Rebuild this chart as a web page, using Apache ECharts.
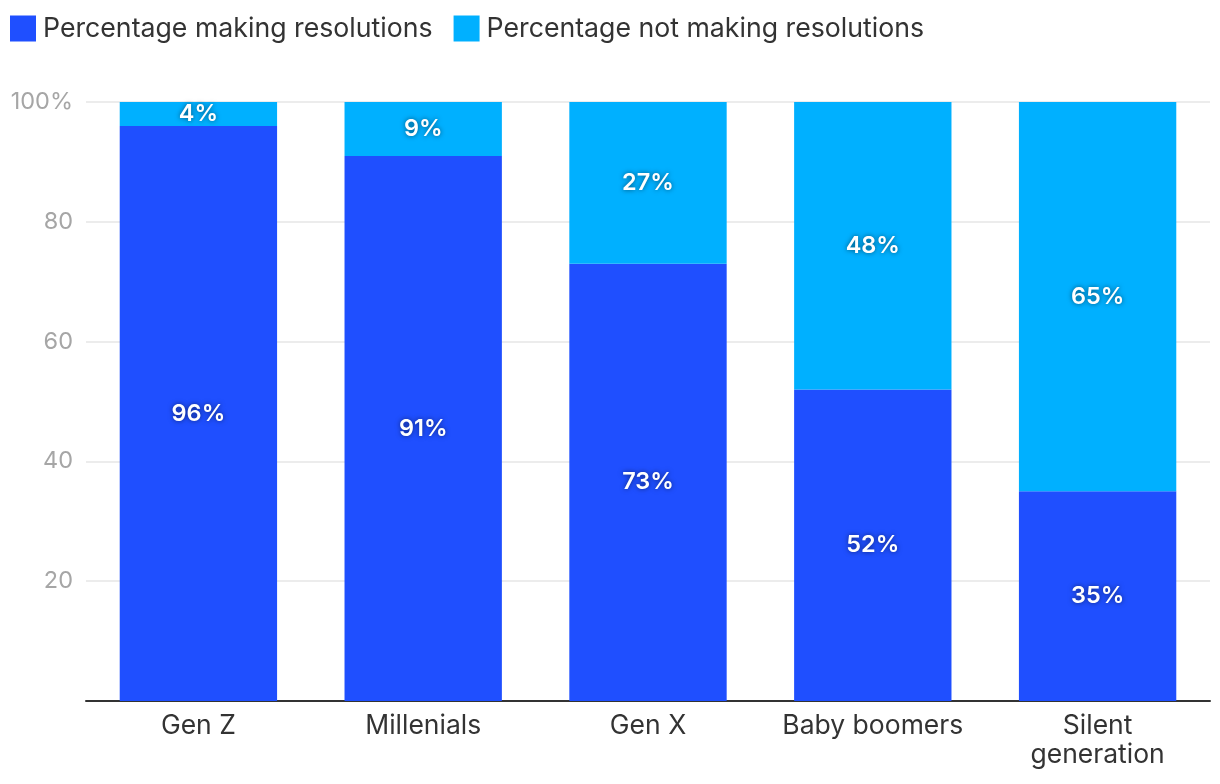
<!DOCTYPE html>
<html><head><meta charset="utf-8">
<script src="https://cdn.jsdelivr.net/npm/echarts@6/dist/echarts.min.js"></script>
<style>html,body{margin:0;padding:0;background:#fff}#c{width:1220px;height:784px}</style>
</head><body><div id="c"></div>
<script>
const categories = ['Gen Z', 'Millenials', 'Gen X', 'Baby boomers', 'Silent\ngeneration'];
const making = [96, 91, 73, 52, 35];
const notMaking = [4, 9, 27, 48, 65];
const yTicks = [0, 20, 40, 60, 80, 100];
const seriesNames = ['Percentage making resolutions', 'Percentage not making resolutions'];

const font = 'Inter, "Noto Sans", sans-serif';
const labelStyle = {
  show: true, position: 'inside', color: '#fff', fontSize: 23.5, fontWeight: 600, fontFamily: font,
  textShadowColor: 'rgba(0,0,0,0.55)', textShadowBlur: 5,
  formatter: p => p.value + '%'
};
const chart = echarts.init(document.getElementById('c'), null, {renderer: 'canvas'});
chart.setOption({
  animation: false,
  color: ['#1f4fff', '#00b0ff'],
  legend: {
    left: 5, top: 10, itemWidth: 26, itemHeight: 26, itemGap: 21, icon: 'rect',
    textStyle: {fontSize: 26.7, color: '#333', fontFamily: font, padding: [0, 0, 0, 2]},
    data: seriesNames
  },
  grid: {left: 86, right: 10, top: 102, bottom: 83, containLabel: false},
  xAxis: {
    type: 'category', data: categories,
    axisLine: {lineStyle: {color: '#333', width: 2}},
    axisTick: {show: false},
    axisLabel: {interval: 0, fontSize: 26.5, color: '#333', fontFamily: font, margin: 11, lineHeight: 29}
  },
  yAxis: {
    type: 'value', min: 0, max: 100, interval: 20,
    axisLine: {show: false}, axisTick: {show: false},
    splitLine: {lineStyle: {color: '#e6e6e6', width: 1.5}},
    axisLabel: {fontSize: 23.5, color: '#a6a6a6', fontFamily: font, margin: 13,
      formatter: v => v === 0 ? '' : (v === 100 ? '100%' : String(v))}
  },
  series: [
    {name: seriesNames[0], type: 'bar', stack: 'a', data: making, barWidth: '70%', label: labelStyle},
    {name: seriesNames[1], type: 'bar', stack: 'a', data: notMaking, barWidth: '70%', label: labelStyle}
  ]
});
</script></body></html>
